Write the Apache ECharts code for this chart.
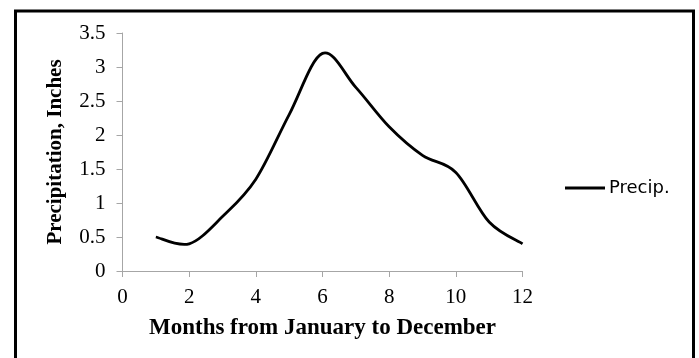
<!DOCTYPE html>
<html>
<head>
<meta charset="utf-8">
<script src="https://cdn.jsdelivr.net/npm/echarts@6/dist/echarts.min.js"></script>
<style>
  html, body { margin: 0; padding: 0; background: #fff; }
  #chart { width: 699px; height: 358px; }
</style>
</head>
<body>
<div id="chart"></div>
<script>
// Monthly precipitation (inches)
const months = [1, 2, 3, 4, 5, 6, 7, 8, 9, 10, 11, 12];
const precip = [0.5, 0.4, 0.8, 1.35, 2.3, 3.2, 2.7, 2.12, 1.7, 1.45, 0.72, 0.4];
const seriesName = 'Precip.';
const xTitle = 'Months from January to December';
const yTitle = 'Precipitation, Inches';

const chart = echarts.init(document.getElementById('chart'), null, { renderer: 'canvas' });

const serif = '"Liberation Serif", "Times New Roman", serif';
const axisGrey = '#a6a6a6';

// Smoothed line through all points (Catmull-Rom style Bezier segments),
// positioned with the grid's own coordinate system.
function renderSmoothLine(params, api) {
  if (params.dataIndex !== 0) return null;
  const pts = months.map((m, i) => api.coord([m, precip[i]]));
  const n = pts.length;
  const k = 1 / 6;
  let d = 'M' + pts[0][0] + ',' + pts[0][1];
  for (let i = 0; i < n - 1; i++) {
    const p0 = pts[Math.max(i - 1, 0)];
    const p1 = pts[i];
    const p2 = pts[i + 1];
    const p3 = pts[Math.min(i + 2, n - 1)];
    const c1x = p1[0] + (p2[0] - p0[0]) * k;
    const c1y = p1[1] + (p2[1] - p0[1]) * k;
    const c2x = p2[0] - (p3[0] - p1[0]) * k;
    const c2y = p2[1] - (p3[1] - p1[1]) * k;
    d += ' C' + c1x + ',' + c1y + ' ' + c2x + ',' + c2y + ' ' + p2[0] + ',' + p2[1];
  }
  return {
    type: 'path',
    shape: { pathData: d },
    style: { fill: 'none', stroke: '#000', lineWidth: 2.8, lineJoin: 'round', lineCap: 'butt' },
    silent: true
  };
}

chart.setOption({
  animation: false,
  backgroundColor: '#fff',
  graphic: [{
    type: 'rect',
    shape: { x: 15.5, y: 11, width: 678, height: 400 },
    style: { fill: 'none', stroke: '#000', lineWidth: 3 },
    silent: true
  }],
  grid: { left: 122.5, right: 176.5, top: 33, bottom: 87 },
  legend: {
    left: 565,
    top: 179,
    padding: 0,
    itemWidth: 40,
    itemHeight: 14,
    itemGap: 4,
    textStyle: { fontFamily: '"DejaVu Sans", Verdana, sans-serif', fontSize: 18, color: '#000', padding: [0, 0, 0, -1] },
    data: [{ name: seriesName, icon: 'path://M0,0 L40,0 L40,3 L0,3 Z' }]
  },
  xAxis: {
    type: 'value',
    min: 0,
    max: 12,
    interval: 2,
    name: xTitle,
    nameLocation: 'middle',
    nameGap: 46,
    nameTextStyle: { fontFamily: serif, fontWeight: 'bold', fontSize: 23, color: '#000' },
    axisLine: { show: true, lineStyle: { color: axisGrey, width: 1 } },
    axisTick: { show: true, length: 6, lineStyle: { color: axisGrey } },
    axisLabel: { fontFamily: serif, fontSize: 21, color: '#000', margin: 16 },
    splitLine: { show: false }
  },
  yAxis: {
    type: 'value',
    min: 0,
    max: 3.5,
    interval: 0.5,
    name: yTitle,
    nameLocation: 'middle',
    nameGap: 56,
    nameTextStyle: { fontFamily: serif, fontWeight: 'bold', fontSize: 21, color: '#000' },
    axisLine: { show: true, lineStyle: { color: axisGrey, width: 1 } },
    axisTick: { show: true, length: 6, lineStyle: { color: axisGrey } },
    axisLabel: { fontFamily: serif, fontSize: 21, color: '#000', margin: 17 },
    splitLine: { show: false }
  },
  series: [{
    name: seriesName,
    type: 'custom',
    coordinateSystem: 'cartesian2d',
    data: months.map((m, i) => [m, precip[i]]),
    encode: { x: 0, y: 1 },
    renderItem: renderSmoothLine,
    itemStyle: { color: '#000' },
    clip: false
  }]
});
</script>
</body>
</html>
